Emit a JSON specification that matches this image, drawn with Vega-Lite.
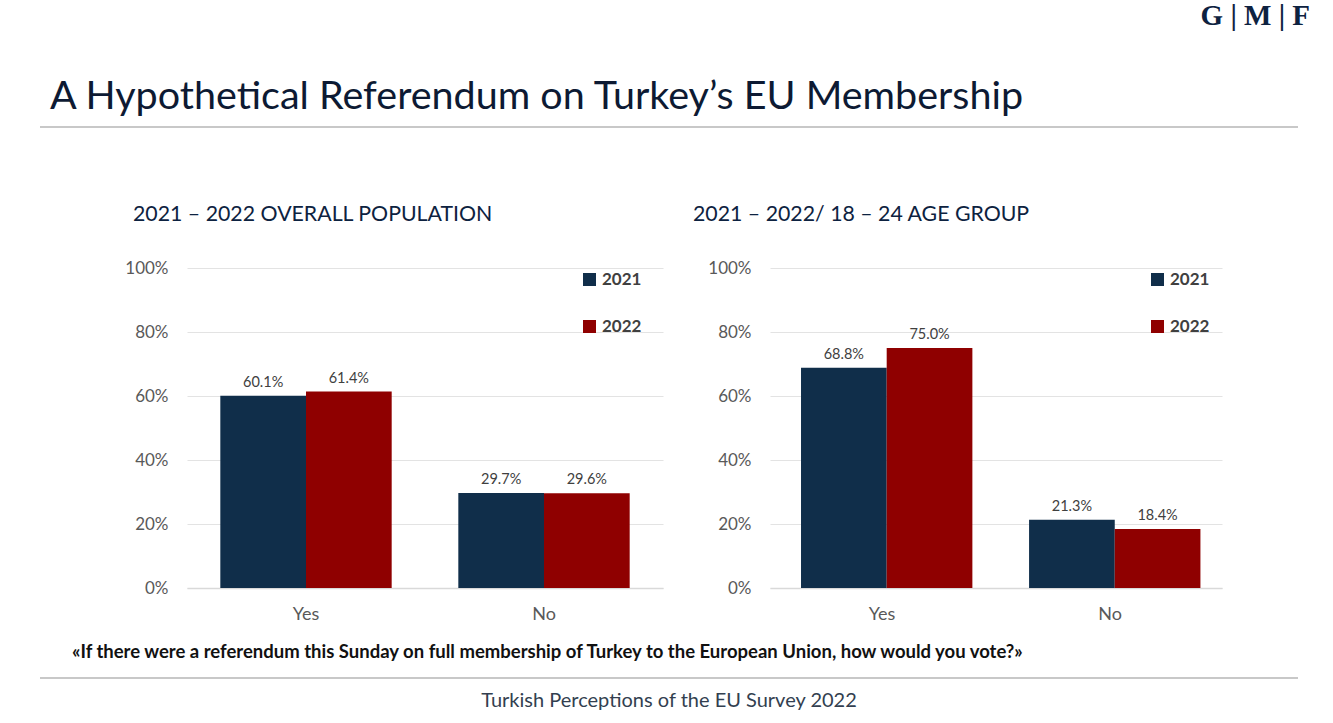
{
  "$schema": "https://vega.github.io/schema/vega-lite/v6.json",
  "description": "A hypothetical referendum on Turkey's EU membership, 2021 vs 2022.",
  "background": "white",
  "padding": {"left": 40, "top": 1, "right": 0, "bottom": 0},
  "config": {
    "view": {"stroke": null},
    "font": "Lato",
    "axis": {"labelFont": "Lato", "titleFont": "Lato"},
    "legend": {"labelFont": "Lato"}
  },
  "title": {
    "text": "G | M | F",
    "anchor": "end",
    "font": "Liberation Serif",
    "fontSize": 29,
    "fontWeight": "bold",
    "color": "#0d2240",
    "dx": 12,
    "offset": 46
  },
  "spacing": 75,
  "vconcat": [
    {
      "width": 1258,
      "height": 2,
      "data": {"values": [{"k": 1}]},
      "mark": {"type": "rect", "color": "#c8c8c8"},
      "encoding": {},
      "title": {
        "text": "A Hypothetical Referendum on Turkey’s EU Membership",
        "anchor": "start",
        "dx": 10,
        "font": "Lato",
        "fontSize": 39.5,
        "fontWeight": "normal",
        "color": "#0d1a33",
        "offset": 9
      }
    },
    {
      "spacing": 15,
      "vconcat": [
        {
          "spacing": 30,
          "title": {
            "text": "«If there were a referendum this Sunday on full membership of Turkey to the European Union, how would you vote?»",
            "orient": "bottom",
            "anchor": "start",
            "dx": 32,
            "offset": 20,
            "font": "Lato",
            "fontSize": 18.5,
            "fontWeight": "bold",
            "color": "#111111"
          },
          "resolve": {"scale": {"color": "independent"}, "legend": {"color": "independent"}},
          "hconcat": [
            {
              "width": 54,
              "height": 320,
              "data": {"values": [{"k": 1}]},
              "mark": {"type": "text", "text": ""},
              "encoding": {}
            },
            {
              "width": 476,
              "height": 320,
              "title": {
                "text": "2021 – 2022 OVERALL POPULATION",
                "anchor": "start",
                "frame": "group",
                "dx": -54,
                "offset": 34,
                "font": "Lato",
                "fontSize": 21.3,
                "fontWeight": "normal",
                "color": "#0d2240"
              },
              "data": {
                "values": [
                  {"answer": "Yes", "year": "2021", "share": 0.601},
                  {"answer": "Yes", "year": "2022", "share": 0.614},
                  {"answer": "No", "year": "2021", "share": 0.297},
                  {"answer": "No", "year": "2022", "share": 0.296}
                ]
              },
              "encoding": {
                "x": {
                  "field": "answer",
                  "type": "nominal",
                  "sort": ["Yes", "No"],
                  "scale": {"paddingInner": 0.28, "paddingOuter": 0.14},
                  "axis": {
                    "title": null,
                    "labelAngle": 0,
                    "ticks": false,
                    "domainColor": "#d9d9d9",
                    "domainWidth": 1.5,
                    "labelFontSize": 18,
                    "labelColor": "#595959",
                    "labelPadding": 17
                  }
                },
                "xOffset": {"field": "year", "type": "nominal"},
                "y": {
                  "field": "share",
                  "type": "quantitative",
                  "scale": {"domain": [0, 1]},
                  "axis": {
                    "title": null,
                    "values": [0, 0.2, 0.4, 0.6, 0.8, 1],
                    "format": ".0%",
                    "domain": false,
                    "ticks": false,
                    "gridColor": "#e3e3e3",
                    "labelFontSize": 17,
                    "labelColor": "#595959",
                    "labelPadding": 19
                  }
                }
              },
              "layer": [
                {
                  "mark": "bar",
                  "encoding": {
                    "color": {
                      "field": "year",
                      "type": "nominal",
                      "scale": {"range": ["#102e4a", "#8f0000"]},
                      "legend": {
                        "title": null,
                        "orient": "none",
                        "legendX": 394,
                        "legendY": 3,
                        "symbolType": "square",
                        "symbolSize": 170,
                        "symbolStrokeWidth": 0,
                        "labelFontSize": 17,
                        "labelFontWeight": "bold",
                        "labelColor": "#404040",
                        "rowPadding": 29
                      }
                    }
                  }
                },
                {
                  "mark": {"type": "text", "baseline": "alphabetic", "dy": -9, "fontSize": 14.5, "color": "#404040"},
                  "encoding": {"text": {"field": "share", "format": ".1%"}}
                }
              ]
            },
            {
              "width": 452,
              "height": 320,
              "title": {
                "text": "2021 – 2022/ 18 – 24 AGE GROUP",
                "anchor": "start",
                "frame": "group",
                "dx": -77,
                "offset": 34,
                "font": "Lato",
                "fontSize": 21.3,
                "fontWeight": "normal",
                "color": "#0d2240"
              },
              "data": {
                "values": [
                  {"answer": "Yes", "year": "2021", "share": 0.688},
                  {"answer": "Yes", "year": "2022", "share": 0.75},
                  {"answer": "No", "year": "2021", "share": 0.213},
                  {"answer": "No", "year": "2022", "share": 0.184}
                ]
              },
              "encoding": {
                "x": {
                  "field": "answer",
                  "type": "nominal",
                  "sort": ["Yes", "No"],
                  "scale": {"paddingInner": 0.29, "paddingOuter": 0.136},
                  "axis": {
                    "title": null,
                    "labelAngle": 0,
                    "ticks": false,
                    "domainColor": "#d9d9d9",
                    "domainWidth": 1.5,
                    "labelFontSize": 18,
                    "labelColor": "#595959",
                    "labelPadding": 17
                  }
                },
                "xOffset": {"field": "year", "type": "nominal"},
                "y": {
                  "field": "share",
                  "type": "quantitative",
                  "scale": {"domain": [0, 1]},
                  "axis": {
                    "title": null,
                    "values": [0, 0.2, 0.4, 0.6, 0.8, 1],
                    "format": ".0%",
                    "domain": false,
                    "ticks": false,
                    "gridColor": "#e3e3e3",
                    "labelFontSize": 17,
                    "labelColor": "#595959",
                    "labelPadding": 19
                  }
                }
              },
              "layer": [
                {
                  "mark": "bar",
                  "encoding": {
                    "color": {
                      "field": "year",
                      "type": "nominal",
                      "scale": {"range": ["#102e4a", "#8f0000"]},
                      "legend": {
                        "title": null,
                        "orient": "none",
                        "legendX": 379,
                        "legendY": 3,
                        "symbolType": "square",
                        "symbolSize": 170,
                        "symbolStrokeWidth": 0,
                        "labelFontSize": 17,
                        "labelFontWeight": "bold",
                        "labelColor": "#404040",
                        "rowPadding": 29
                      }
                    }
                  }
                },
                {
                  "mark": {"type": "text", "baseline": "alphabetic", "dy": -9, "fontSize": 14.5, "color": "#404040"},
                  "encoding": {"text": {"field": "share", "format": ".1%"}}
                }
              ]
            }
          ]
        },
        {
          "width": 1258,
          "height": 2,
          "data": {"values": [{"k": 1}]},
          "mark": {"type": "rect", "color": "#c8c8c8"},
          "encoding": {},
          "title": {
            "text": "Turkish Perceptions of the EU Survey 2022",
            "orient": "bottom",
            "anchor": "middle",
            "offset": 12,
            "font": "Lato",
            "fontSize": 20,
            "fontWeight": "normal",
            "color": "#333f50"
          }
        }
      ]
    }
  ]
}
